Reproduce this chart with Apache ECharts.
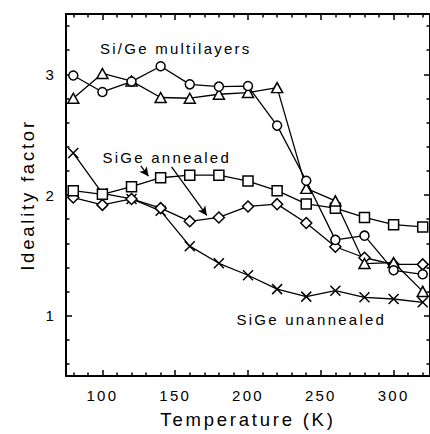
<!DOCTYPE html>
<html>
<head>
<meta charset="utf-8">
<script src="https://cdn.jsdelivr.net/npm/echarts@6/dist/echarts.min.js"></script>
<style>
html,body{margin:0;padding:0;background:#fff;}
#main{width:430px;height:434px;}
#main text{letter-spacing:0.15em;}
</style>
</head>
<body>
<div id="main"></div>
<script>
// ---- data ----
const temps = [80, 100, 120, 140, 160, 180, 200, 220, 240, 260, 280, 300, 320];
const multiCircles   = [2.99, 2.854, 2.94, 3.067, 2.917, 2.898, 2.903, 2.575, 2.118, 1.628, 1.663, 1.376, 1.343];
const multiTriangles = [2.802, 3.007, 2.944, 2.808, 2.802, 2.835, 2.849, 2.89, 2.055, 1.951, 1.432, 1.44, 1.201];
const annealSquares  = [2.036, 2.006, 2.069, 2.143, 2.164, 2.164, 2.115, 2.036, 1.926, 1.891, 1.814, 1.754, 1.735];
const annealDiamonds = [1.979, 1.918, 1.967, 1.891, 1.782, 1.814, 1.905, 1.924, 1.768, 1.571, 1.48, 1.425, 1.425];
const unannealCross  = [2.348, 2.014, 1.967, 1.869, 1.576, 1.434, 1.335, 1.22, 1.158, 1.207, 1.152, 1.138, 1.111];

const xMajorTicks = [100, 150, 200, 250, 300];
const xMinorTicks = [80, 90, 110, 120, 130, 140, 160, 170, 180, 190, 210, 220, 230, 240, 260, 270, 280, 290, 310, 320];
const yMajorTicks = [1, 2, 3];
const yMinorTicks = [0.6, 0.8, 1.2, 1.4, 1.6, 1.8, 2.2, 2.4, 2.6, 2.8, 3.2, 3.4];

// annotation arrows (data coordinates: [temperature, ideality])
const arrowShort = [[126.4, 2.241], [131.6, 2.156]];
const arrowLong  = [[147.5, 2.233], [171.7, 1.831]];

const FONT = "'Liberation Sans', Arial, sans-serif";
const black = '#000';

function xAxisDef(pos, ticks, len, showLabel, showLine) {
  return {
    type: 'value', min: 75, max: 325, position: pos,
    axisLine: {show: showLine, onZero: false, lineStyle: {color: black, width: 2}},
    axisTick: {show: true, inside: true, length: len, customValues: ticks, lineStyle: {color: black, width: 1.5}},
    axisLabel: showLabel ? {show: true, customValues: ticks, color: black, fontSize: 15, fontFamily: FONT, margin: 12} : {show: false},
    splitLine: {show: false}
  };
}
function yAxisDef(pos, ticks, len, showLabel, showLine) {
  return {
    type: 'value', min: 0.5, max: 3.5, position: pos,
    axisLine: {show: showLine, onZero: false, lineStyle: {color: black, width: 2}},
    axisTick: {show: true, inside: true, length: len, customValues: ticks, lineStyle: {color: black, width: 1.5}},
    axisLabel: showLabel ? {show: true, customValues: ticks, color: black, fontSize: 15, fontFamily: FONT, margin: 10} : {show: false},
    splitLine: {show: false}
  };
}

const xAxes = [
  Object.assign(xAxisDef('bottom', xMajorTicks, 6, true, true), {
    name: 'Temperature (K)', nameLocation: 'middle', nameGap: 34,
    nameTextStyle: {color: black, fontSize: 18.5, fontFamily: FONT}
  }),
  xAxisDef('bottom', xMinorTicks, 3.5, false, false),
  xAxisDef('top', xMajorTicks, 6, false, true),
  xAxisDef('top', xMinorTicks, 3.5, false, false)
];
const yAxes = [
  Object.assign(yAxisDef('left', yMajorTicks, 6, true, true), {
    name: 'Ideality factor', nameLocation: 'middle', nameGap: 27,
    nameTextStyle: {color: black, fontSize: 18.5, fontFamily: FONT}
  }),
  yAxisDef('left', yMinorTicks, 3.5, false, false),
  yAxisDef('right', yMajorTicks, 6, false, true),
  yAxisDef('right', yMinorTicks, 3.5, false, false)
];

function mkSeries(name, vals, symbol, size) {
  return {
    name: name, type: 'line', xAxisIndex: 0, yAxisIndex: 0,
    data: temps.map((t, i) => [t, vals[i]]),
    symbol: symbol, symbolSize: size, showAllSymbol: true,
    lineStyle: {color: black, width: 1.3},
    itemStyle: {color: '#fff', borderColor: black, borderWidth: 1.5},
    emphasis: {disabled: true}, animation: false, z: 3
  };
}

const crossSeries = mkSeries('SiGe unannealed', unannealCross, 'path://M0,0L10,10M0,10L10,0', [10, 10]);
crossSeries.itemStyle = {color: black, borderColor: black, borderWidth: 1.5};

const squareSeries = mkSeries('SiGe annealed (squares)', annealSquares, 'rect', [10, 10]);
squareSeries.markLine = {
  silent: true, animation: false,
  symbol: ['none', 'arrow'], symbolSize: [7, 9],
  lineStyle: {color: black, width: 1.3, type: 'solid'},
  label: {show: false},
  data: [
    [{coord: arrowShort[0]}, {coord: arrowShort[1]}],
    [{coord: arrowLong[0]}, {coord: arrowLong[1]}]
  ]
};

const option = {
  backgroundColor: '#fff',
  animation: false,
  grid: {left: 66, top: 14, width: 368, height: 365.3, containLabel: false},
  xAxis: xAxes,
  yAxis: yAxes,
  series: [
    crossSeries,
    mkSeries('SiGe annealed (diamonds)', annealDiamonds, 'diamond', [11, 11]),
    squareSeries,
    mkSeries('Si/Ge multilayers (triangles)', multiTriangles, 'triangle', [11, 10]),
    mkSeries('Si/Ge multilayers (circles)', multiCircles, 'circle', [9, 9])
  ],
  graphic: [
    {type: 'text', left: 100, top: 41, z: 10,
     style: {text: 'Si/Ge multilayers', fontSize: 15, fontFamily: FONT, fill: black}},
    {type: 'text', left: 102.5, top: 149.5, z: 10,
     style: {text: 'SiGe annealed', fontSize: 15, fontFamily: FONT, fill: black}},
    {type: 'text', left: 236.5, top: 311.5, z: 10,
     style: {text: 'SiGe unannealed', fontSize: 15, fontFamily: FONT, fill: black}}
  ]
};

const chart = echarts.init(document.getElementById('main'), null, {renderer: 'svg'});
chart.setOption(option);
</script>
</body>
</html>
